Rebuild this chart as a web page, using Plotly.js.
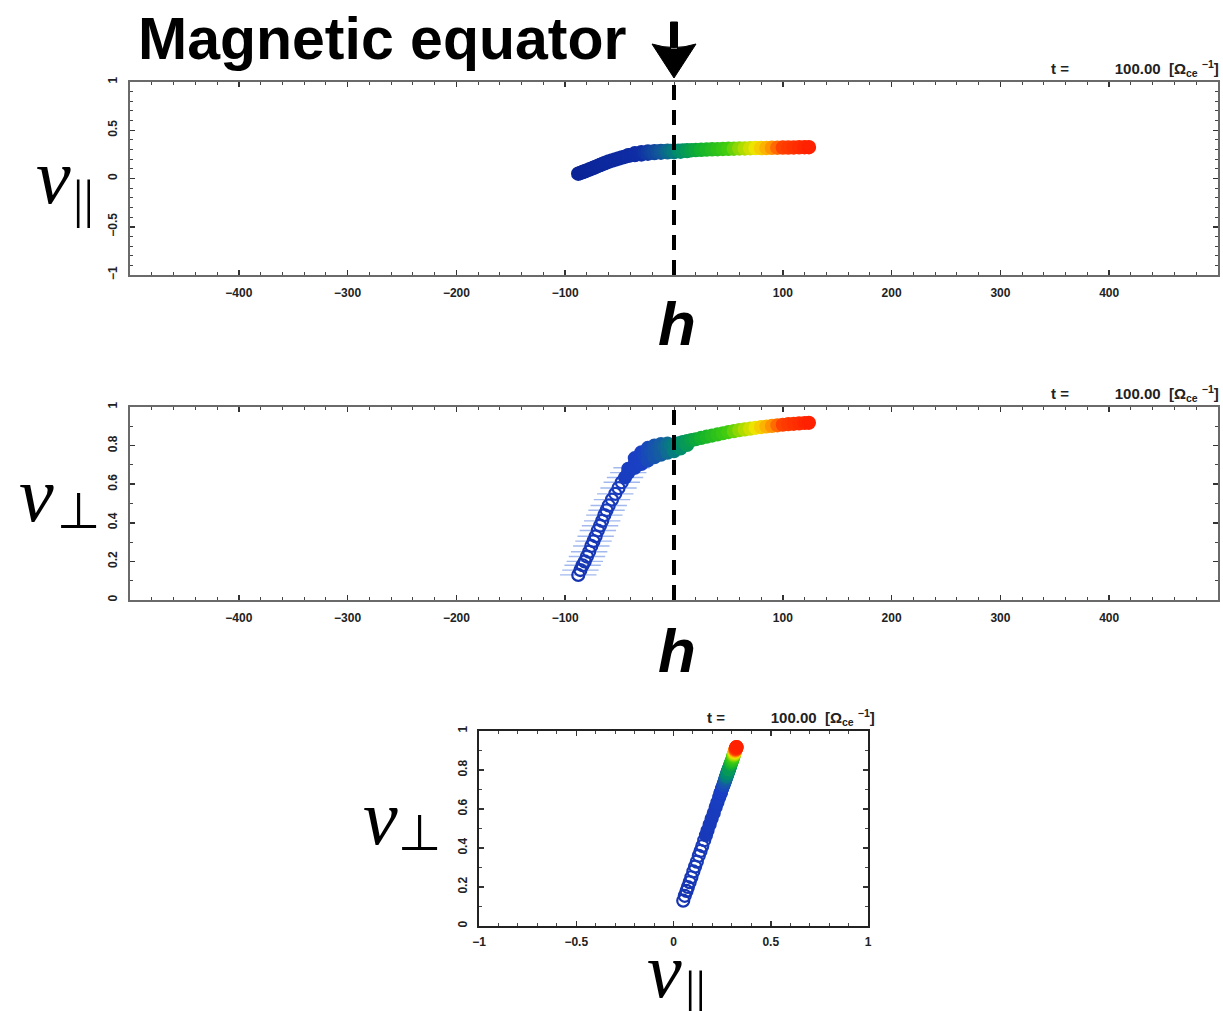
<!DOCTYPE html>
<html>
<head>
<meta charset="utf-8">
<script src="https://cdn.plot.ly/plotly-3.0.1.min.js"></script>
<style>html,body{margin:0;padding:0;background:#fff;}#chart{width:1223px;height:1011px;}</style>
</head>
<body>
<div id="chart"></div>
<script>
// particle positions along the field line (h) and their velocities
// main row of particles
const h = [-88, -86, -84, -82, -80, -78, -76, -74, -72, -70, -68, -66, -64, -62, -60, -57, -54, -51, -48, -45,
           -42, -39, -36, -33, -30, -27, -24, -21, -18, -15, -12, -9, -6, -3, 0, 4, 8, 12, 16, 20,
           25, 30, 35, 40, 45, 50, 55, 60, 65, 70, 75, 80, 85, 90, 95, 100, 105, 110, 115, 120, 124];
const vPar = [0.050, 0.058, 0.067, 0.074, 0.083, 0.092, 0.102, 0.111, 0.120, 0.130, 0.139, 0.148, 0.158, 0.167, 0.175,
              0.186, 0.196, 0.207, 0.217, 0.226, 0.235, 0.243, 0.250, 0.256, 0.261, 0.265, 0.269, 0.272, 0.275, 0.277,
              0.279, 0.281, 0.283, 0.284, 0.286, 0.288, 0.290, 0.292, 0.293, 0.295, 0.297, 0.300, 0.302, 0.304, 0.306,
              0.308, 0.309, 0.311, 0.312, 0.314, 0.315, 0.316, 0.317, 0.318, 0.319, 0.320, 0.321, 0.322, 0.323, 0.324, 0.324];
const vPerp = [0.130, 0.155, 0.180, 0.200, 0.225, 0.250, 0.280, 0.305, 0.330, 0.360, 0.385, 0.410, 0.440, 0.465, 0.490,
               0.520, 0.550, 0.580, 0.610, 0.635, 0.660, 0.685, 0.705, 0.720, 0.735, 0.748, 0.758, 0.768, 0.775, 0.782,
               0.788, 0.793, 0.798, 0.802, 0.806, 0.812, 0.818, 0.823, 0.828, 0.833, 0.840, 0.846, 0.852, 0.858, 0.864,
               0.870, 0.875, 0.880, 0.884, 0.888, 0.892, 0.896, 0.899, 0.902, 0.905, 0.908, 0.911, 0.913, 0.915, 0.917, 0.918];
// lower edge of the band
const hB = [-36, -30, -24, -18, -12, -6, 0, 6, 12];
const vParB = [0.243, 0.250, 0.257, 0.263, 0.267, 0.271, 0.273, 0.278, 0.284];
const vPerpB = [0.685, 0.705, 0.723, 0.740, 0.753, 0.763, 0.771, 0.785, 0.803];
// upper edge of the band
const hC = [-42, -36, -30, -24, -18, -12, -6];
const vParC = [0.242, 0.261, 0.271, 0.279, 0.283, 0.286, 0.287];
const vPerpC = [0.680, 0.735, 0.765, 0.788, 0.800, 0.808, 0.810];

const hTicks = [-400, -300, -200, -100, 100, 200, 300, 400];
const hTickText = ['−400', '−300', '−200', '−100', '100', '200', '300', '400'];
const vParTicks = [-1, -0.5, 0, 0.5, 1];
const vParTickText = ['−1', '−0.5', '0', '0.5', '1'];
const vPerpTicks = [0, 0.2, 0.4, 0.6, 0.8, 1];
const vPerpTickText = ['0', '0.2', '0.4', '0.6', '0.8', '1'];
const vPar3Ticks = [-1, -0.5, 0, 0.5, 1];
const vPar3TickText = ['−1', '−0.5', '0', '0.5', '1'];
const timeLabel = 't =\u00a0\u00a0\u00a0\u00a0\u00a0\u00a0\u00a0\u00a0\u00a0\u00a0\u00a0100.00\u00a0\u00a0[Ω<sub>ce</sub>\u00a0<sup>−1</sup>]';

const W = 1223, H = 1011;
const px = v => v / W;
const py = v => 1 - v / H;

// merge rows, drawn in order of h so that the red end lies on top
const allH0 = h.concat(hB, hC);
const allPar0 = vPar.concat(vParB, vParC);
const allPerp0 = vPerp.concat(vPerpB, vPerpC);
const order = allH0.map((v, i) => i).sort((a, b) => allH0[a] - allH0[b]);
const allH = order.map(i => allH0[i]);
const allPar = order.map(i => allPar0[i]);
const allPerp = order.map(i => allPerp0[i]);

const cscale = [
  [0.00, '#1634b0'], [0.28, '#1a40c4'], [0.37, '#1560a0'], [0.44, '#008a70'],
  [0.53, '#10b030'], [0.65, '#40cc10'], [0.72, '#b0dc00'], [0.77, '#f0e400'],
  [0.83, '#ffa000'], [0.885, '#ff4000'], [1.00, '#ff2000']
];
const cscaleTop = [
  [0.00, '#0a2496'], [0.28, '#102ea6'], [0.37, '#12589a'], [0.44, '#008a70'],
  [0.53, '#10b030'], [0.65, '#40cc10'], [0.72, '#b0dc00'], [0.77, '#f0e400'],
  [0.83, '#ffa000'], [0.885, '#ff4000'], [1.00, '#ff2000']
];
function mk(size, lw, openBelow, cs) {
  return {
    symbol: allH.map(v => (v < openBelow ? 'circle-open' : 'circle')),
    size: size, color: allH, colorscale: cs, cmin: -90, cmax: 125,
    line: {width: lw, color: allH, colorscale: cs, cmin: -90, cmax: 125}
  };
}

const streakH = h.filter(v => v <= -39);
const streakV = vPerp.filter((v, i) => h[i] <= -39);

const traces = [
  {x: allH, y: allPar, xaxis: 'x', yaxis: 'y', type: 'scatter', mode: 'markers', marker: mk(13, 1.5, -999, cscaleTop), hoverinfo: 'none'},
  {x: streakH, y: streakV, xaxis: 'x2', yaxis: 'y2', type: 'scatter', mode: 'markers',
   marker: {symbol: 'line-ew', size: 26, line: {width: 1.4, color: '#a2b8ee'}}, hoverinfo: 'none'},
  {x: allH, y: allPerp, xaxis: 'x2', yaxis: 'y2', type: 'scatter', mode: 'markers', marker: mk(12, 2.2, -46, cscale), hoverinfo: 'none'},
  {x: allPar, y: allPerp, xaxis: 'x3', yaxis: 'y3', type: 'scatter', mode: 'markers', marker: mk(12, 2.2, -62, cscale), hoverinfo: 'none'}
];

const tickFont = {family: 'Liberation Sans, Arial, sans-serif', size: 12, color: '#222', weight: 'bold'};
const minorX = {dtick: 20, tick0: 0, ticks: 'inside', ticklen: 3, tickcolor: '#444', tickwidth: 1};
const minorY = {dtick: 0.1, tick0: 0, ticks: 'inside', ticklen: 3, tickcolor: '#444', tickwidth: 1};
function axisBase(extra) {
  return Object.assign({
    showgrid: false, zeroline: false, showline: true, linecolor: '#6a6a6a', linewidth: 2,
    mirror: 'ticks', ticks: 'inside', ticklen: 5, tickwidth: 1.5, tickcolor: '#333',
    tickfont: tickFont, tickmode: 'array', fixedrange: true
  }, extra);
}

const layout = {
  width: W, height: H, margin: {l: 0, r: 0, t: 0, b: 0},
  paper_bgcolor: '#fff', plot_bgcolor: '#fff', showlegend: false,
  xaxis: axisBase({domain: [px(130), px(1218)], range: [-500, 500], anchor: 'y',
    tickvals: hTicks, ticktext: hTickText, ticklabelstandoff: 6, minor: minorX}),
  yaxis: axisBase({domain: [1 - 275 / H, 1 - 82 / H], range: [-1, 1], anchor: 'x',
    tickvals: vParTicks, ticktext: vParTickText, tickangle: -90, ticklabelstandoff: 6, minor: minorY}),
  xaxis2: axisBase({domain: [px(130), px(1218)], range: [-500, 500], anchor: 'y2',
    tickvals: hTicks, ticktext: hTickText, ticklabelstandoff: 6, minor: minorX}),
  yaxis2: axisBase({domain: [1 - 600 / H, 1 - 407 / H], range: [0, 1], anchor: 'x2',
    tickvals: vPerpTicks, ticktext: vPerpTickText, tickangle: -90, ticklabelstandoff: 6, minor: minorY}),
  xaxis3: axisBase({domain: [px(479), px(868)], range: [-1, 1], anchor: 'y3', linecolor: '#222',
    tickvals: vPar3Ticks, ticktext: vPar3TickText, ticklabelstandoff: 4, minor: minorY}),
  yaxis3: axisBase({domain: [1 - 926 / H, 1 - 731 / H], range: [0, 1], anchor: 'x3', linecolor: '#222',
    tickvals: vPerpTicks, ticktext: vPerpTickText, tickangle: -90, ticklabelstandoff: 5, minor: minorY}),
  shapes: [
    {type: 'line', xref: 'x', yref: 'paper', x0: 0, x1: 0, y0: py(275), y1: py(79),
     line: {color: '#000', width: 4, dash: '15px,10px'}},
    {type: 'line', xref: 'x2', yref: 'paper', x0: 0, x1: 0, y0: py(600), y1: py(407),
     line: {color: '#000', width: 4, dash: '15px,10px'}},
    // downward arrow marking the magnetic equator
    {type: 'path', xref: 'x', xsizemode: 'pixel', xanchor: 0, yref: 'paper', ysizemode: 'pixel', yanchor: py(78),
     path: 'M0,0 L-22,34 Q0,27 22,34 Z M-3.5,29 L-3.5,56 L3.5,56 L3.5,29 Z',
     fillcolor: '#000', line: {color: '#000', width: 1}}
  ],
  annotations: [
    {xref: 'paper', yref: 'paper', x: px(136), y: py(39), xanchor: 'left', yanchor: 'middle', showarrow: false,
     text: 'Magnetic equator',
     font: {family: 'Liberation Sans, Arial, sans-serif', size: 59, color: '#000', weight: 'bold'}},
    {xref: 'paper', yref: 'paper', x: px(1221), y: py(68), xanchor: 'right', yanchor: 'middle', showarrow: false,
     text: timeLabel, font: {family: 'Liberation Sans, Arial, sans-serif', size: 15, color: '#222', weight: 'bold'}},
    {xref: 'paper', yref: 'paper', x: px(1221), y: py(393), xanchor: 'right', yanchor: 'middle', showarrow: false,
     text: timeLabel, font: {family: 'Liberation Sans, Arial, sans-serif', size: 15, color: '#222', weight: 'bold'}},
    {xref: 'paper', yref: 'paper', x: px(877), y: py(717), xanchor: 'right', yanchor: 'middle', showarrow: false,
     text: timeLabel, font: {family: 'Liberation Sans, Arial, sans-serif', size: 15, color: '#222', weight: 'bold'}},
    // h labels
    {xref: 'paper', yref: 'paper', x: px(677), y: py(324), xanchor: 'center', yanchor: 'middle', showarrow: false,
     text: '<b><i>h</i></b>', font: {family: 'Liberation Sans, Arial, sans-serif', size: 62, color: '#000'}},
    {xref: 'paper', yref: 'paper', x: px(677), y: py(650), xanchor: 'center', yanchor: 'middle', showarrow: false,
     text: '<b><i>h</i></b>', font: {family: 'Liberation Sans, Arial, sans-serif', size: 62, color: '#000'}},
    // v parallel (top)
    {xref: 'paper', yref: 'paper', x: px(53), y: py(177), xanchor: 'center', yanchor: 'middle', showarrow: false,
     text: '<i>v</i>', font: {family: 'Liberation Serif, Times New Roman, serif', size: 78, color: '#000'}},
    {xref: 'paper', yref: 'paper', x: px(84), y: py(199), xanchor: 'center', yanchor: 'middle', showarrow: false,
     text: '||', font: {family: 'Liberation Serif, serif', size: 52, color: '#000'}},
    // v perp (middle)
    {xref: 'paper', yref: 'paper', x: px(36), y: py(495), xanchor: 'center', yanchor: 'middle', showarrow: false,
     text: '<i>v</i>', font: {family: 'Liberation Serif, Times New Roman, serif', size: 78, color: '#000'}},
    {xref: 'paper', yref: 'paper', x: px(79), y: py(511), xanchor: 'center', yanchor: 'middle', showarrow: false,
     text: '⊥', font: {family: 'DejaVu Sans, sans-serif', size: 50, color: '#000'}},
    // v perp (bottom)
    {xref: 'paper', yref: 'paper', x: px(380), y: py(817), xanchor: 'center', yanchor: 'middle', showarrow: false,
     text: '<i>v</i>', font: {family: 'Liberation Serif, Times New Roman, serif', size: 78, color: '#000'}},
    {xref: 'paper', yref: 'paper', x: px(420), y: py(833), xanchor: 'center', yanchor: 'middle', showarrow: false,
     text: '⊥', font: {family: 'DejaVu Sans, sans-serif', size: 50, color: '#000'}},
    // v parallel (bottom x label)
    {xref: 'paper', yref: 'paper', x: px(664), y: py(970), xanchor: 'center', yanchor: 'middle', showarrow: false,
     text: '<i>v</i>', font: {family: 'Liberation Serif, Times New Roman, serif', size: 78, color: '#000'}},
    {xref: 'paper', yref: 'paper', x: px(695), y: py(990), xanchor: 'center', yanchor: 'middle', showarrow: false,
     text: '||', font: {family: 'Liberation Serif, serif', size: 52, color: '#000'}}
  ]
};

Plotly.newPlot('chart', traces, layout, {staticPlot: true, displayModeBar: false});
</script>
</body>
</html>
